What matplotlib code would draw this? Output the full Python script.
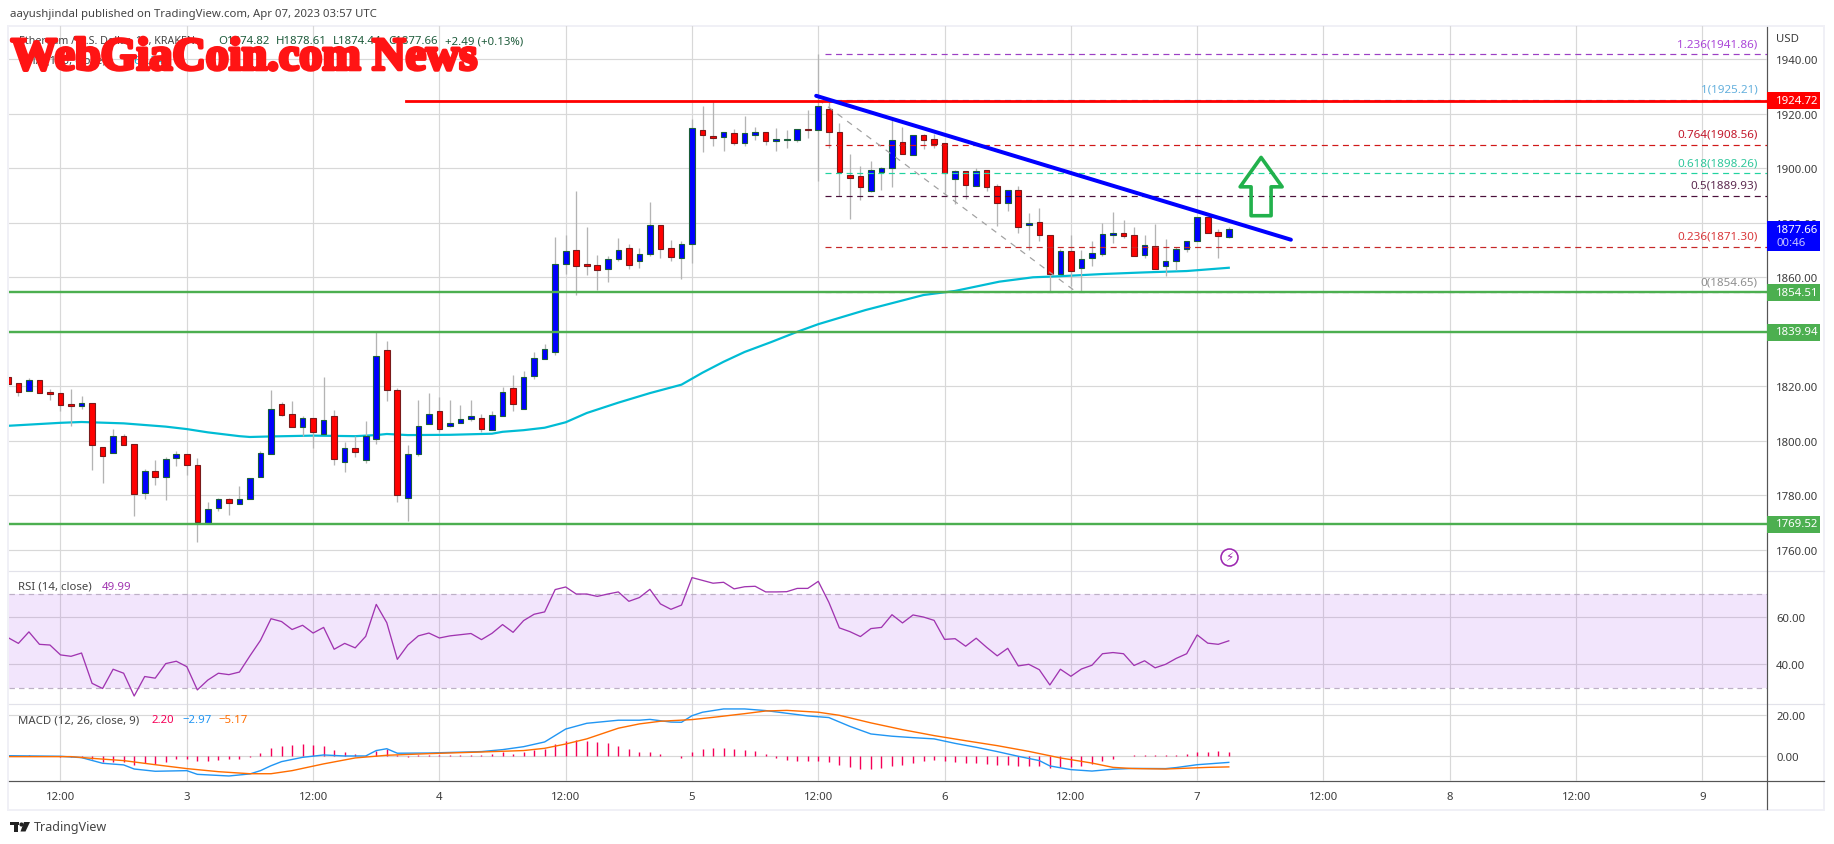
import numpy as np
import matplotlib
matplotlib.use('Agg')
import matplotlib.pyplot as plt
import matplotlib.patheffects as pe
from matplotlib.patches import Rectangle, Polygon

plt.rcParams['font.family'] = ['Noto Sans', 'DejaVu Sans']

# ---- velas de 1h, desde la barra -5 (12:00 del dia 2 = barra 0) ----
first_bar = -5
opens = [1823.3, 1821.1, 1818.4, 1822.2, 1817.8, 1817.4, 1813.4, 1812.9, 1813.7, 1797.9,
         1795.6, 1801.6, 1798.7, 1780.9, 1788.8, 1786.8, 1793.8, 1795.1, 1791.3, 1769.9,
         1775.2, 1778.5, 1776.9, 1778.7, 1786.7, 1795.3, 1813.4, 1810.0, 1804.9, 1808.2,
         1802.6, 1809.0, 1792.4, 1797.2, 1792.8, 1800.5, 1833.2, 1818.5, 1779.1, 1795.0,
         1806.0, 1810.8, 1805.3, 1806.4, 1807.9, 1808.2, 1803.8, 1809.2, 1819.4, 1811.7,
         1823.8, 1830.0, 1832.6, 1865.0, 1869.9, 1864.8, 1864.4, 1863.2, 1866.6, 1870.6,
         1865.9, 1868.4, 1879.1, 1870.6, 1867.0, 1872.1, 1913.9, 1911.7, 1911.4, 1912.8,
         1909.2, 1912.3, 1913.2, 1910.1, 1910.5, 1910.5, 1914.4, 1914.2, 1921.6, 1913.2,
         1897.4, 1897.1, 1891.8, 1898.8, 1900.0, 1909.5, 1905.0, 1912.1, 1910.6, 1909.2,
         1896.2, 1898.9, 1893.6, 1899.3, 1893.4, 1887.1, 1891.9, 1879.3, 1880.2, 1875.4,
         1861.3, 1869.5, 1863.3, 1867.0, 1868.7, 1875.6, 1876.1, 1875.4, 1868.1, 1871.4,
         1864.0, 1865.9, 1870.3, 1873.2, 1882.0, 1876.5, 1874.82]
highs = [1823.3, 1821.1, 1822.9, 1822.2, 1819.0, 1817.4, 1819.0, 1816.3, 1813.7, 1797.9,
         1804.3, 1802.5, 1798.7, 1789.6, 1792.9, 1793.9, 1796.1, 1795.1, 1793.7, 1777.7,
         1778.9, 1778.9, 1783.4, 1786.4, 1796.1, 1818.6, 1814.2, 1814.6, 1809.1, 1808.2,
         1823.3, 1811.2, 1799.4, 1801.9, 1807.2, 1839.8, 1836.8, 1819.2, 1798.4, 1814.9,
         1817.5, 1816.0, 1814.9, 1813.1, 1814.9, 1809.7, 1810.8, 1819.7, 1824.2, 1825.6,
         1832.6, 1835.5, 1874.8, 1875.5, 1891.7, 1878.5, 1868.2, 1867.8, 1874.4, 1872.2,
         1870.8, 1887.6, 1879.1, 1873.7, 1873.3, 1918.1, 1922.9, 1924.7, 1913.2, 1914.4,
         1919.2, 1915.2, 1913.2, 1914.7, 1914.1, 1914.3, 1921.3, 1941.9, 1924.2, 1916.6,
         1905.3, 1900.7, 1902.6, 1900.4, 1918.1, 1915.0, 1912.1, 1912.6, 1912.6, 1909.2,
         1899.3, 1898.9, 1900.0, 1899.3, 1894.1, 1891.9, 1893.4, 1883.6, 1885.4, 1875.4,
         1870.4, 1875.5, 1870.0, 1873.3, 1879.9, 1884.0, 1881.0, 1878.5, 1875.5, 1879.5,
         1874.0, 1871.0, 1873.2, 1882.0, 1882.0, 1877.7, 1878.61]
lows = [1820.8, 1816.4, 1818.4, 1817.6, 1815.1, 1811.0, 1805.5, 1811.6, 1789.3, 1784.5,
        1795.6, 1798.6, 1772.5, 1778.6, 1783.9, 1778.4, 1790.9, 1787.5, 1763.0, 1769.9,
        1774.3, 1772.9, 1776.9, 1778.7, 1786.7, 1795.3, 1809.2, 1804.9, 1801.6, 1797.5,
        1802.6, 1791.2, 1788.6, 1794.2, 1791.9, 1798.9, 1814.7, 1777.5, 1770.6, 1794.5,
        1806.0, 1803.1, 1804.9, 1806.4, 1807.4, 1803.1, 1803.8, 1809.2, 1811.0, 1811.7,
        1822.7, 1830.0, 1831.6, 1861.3, 1853.5, 1861.0, 1855.4, 1858.4, 1865.8, 1863.1,
        1863.5, 1868.0, 1867.2, 1865.8, 1859.5, 1865.4, 1906.1, 1908.3, 1906.5, 1908.7,
        1908.3, 1910.5, 1908.5, 1906.5, 1907.5, 1909.8, 1911.1, 1895.5, 1907.6, 1890.0,
        1881.4, 1888.5, 1891.4, 1892.0, 1893.3, 1905.4, 1905.0, 1907.1, 1907.5, 1890.9,
        1887.0, 1888.9, 1893.6, 1891.8, 1879.0, 1884.5, 1876.4, 1870.1, 1873.5, 1855.0,
        1861.3, 1856.9, 1855.0, 1864.3, 1867.9, 1872.7, 1874.5, 1867.9, 1867.0, 1863.2,
        1860.6, 1862.6, 1869.4, 1873.2, 1876.1, 1867.2, 1874.4]
closes = [1820.8, 1818.0, 1822.2, 1817.6, 1817.3, 1813.2, 1812.9, 1813.7, 1798.6, 1794.5,
          1801.6, 1798.6, 1780.6, 1788.8, 1786.8, 1793.5, 1795.1, 1791.2, 1770.3, 1774.9,
          1778.5, 1777.3, 1778.5, 1786.4, 1795.4, 1811.5, 1809.6, 1804.9, 1808.2, 1803.4,
          1807.5, 1793.2, 1797.2, 1796.0, 1801.6, 1831.2, 1818.5, 1780.2, 1795.0, 1805.6,
          1809.7, 1804.5, 1806.4, 1807.9, 1809.0, 1804.2, 1809.3, 1817.9, 1813.5, 1823.4,
          1830.4, 1833.7, 1864.7, 1869.5, 1864.3, 1864.3, 1862.8, 1866.6, 1869.9, 1864.4,
          1868.4, 1879.1, 1870.5, 1867.3, 1872.1, 1914.7, 1912.3, 1911.0, 1913.2, 1909.2,
          1912.8, 1913.2, 1910.1, 1910.6, 1910.6, 1914.3, 1914.2, 1922.7, 1913.4, 1898.8,
          1896.6, 1893.3, 1899.3, 1900.0, 1910.3, 1905.4, 1912.1, 1910.5, 1909.0, 1898.4,
          1898.9, 1894.0, 1898.9, 1893.3, 1887.4, 1891.9, 1878.6, 1879.8, 1875.7, 1861.3,
          1869.5, 1862.4, 1866.6, 1868.8, 1875.8, 1876.1, 1875.3, 1867.9, 1871.8, 1863.2,
          1865.9, 1870.3, 1873.2, 1882.0, 1876.1, 1875.0, 1877.66]

# EMA
ema_bars = [-5, 0, 2, 6, 10, 12, 14, 17, 18, 20, 24, 28, 30, 31, 33, 37, 41, 42, 44, 46, 48, 50, 53, 56,
            59, 61, 63, 65, 67.5, 70, 72, 76.5, 82, 85, 89.2, 92.4, 95, 99, 103, 107, 111]
ema_vals = [1805.5, 1806.6, 1806.9, 1806.4, 1805.2, 1804.3, 1803.1, 1801.7, 1801.4, 1801.6, 1801.9,
            1801.7, 1802.1, 1802.5, 1802.1, 1802.2, 1802.6, 1803.3, 1803.9, 1804.8, 1806.8, 1810.2,
            1814.0, 1817.5, 1820.6, 1825.0, 1829.0, 1832.6, 1836.2, 1840.0, 1842.8, 1848.0, 1853.5,
            1855.0, 1858.4, 1860.0, 1860.4, 1861.2, 1861.8, 1862.3, 1863.5]

# RSI, una por barra
rsi_vals = [51.4, 48.9, 53.8, 48.5, 48.2, 44.0, 43.4, 44.8, 31.9, 29.7, 37.9, 36.2, 26.5, 34.8, 34.1,
            40.3, 41.3, 39.0, 29.1, 33.3, 36.2, 35.6, 36.7, 43.6, 50.2, 59.4, 58.2, 54.8, 56.6, 53.3,
            55.7, 46.4, 48.9, 47.0, 51.9, 65.5, 57.7, 42.1, 48.2, 52.1, 53.3, 51.2, 52.1, 52.6, 53.1,
            50.5, 53.2, 56.9, 53.6, 58.6, 61.3, 62.3, 71.8, 72.9, 69.9, 69.9, 68.9, 69.9, 70.8, 66.8,
            68.4, 71.9, 65.7, 63.4, 65.2, 76.9, 75.7, 74.5, 74.9, 72.1, 73.0, 73.2, 70.8, 70.8, 70.9,
            72.3, 72.3, 75.3, 66.4, 55.5, 53.9, 51.8, 55.2, 55.7, 61.1, 57.6, 61.0, 60.1, 58.7, 50.6,
            50.9, 47.7, 51.1, 47.2, 43.6, 46.8, 39.3, 40.0, 37.7, 31.2, 37.9, 34.9, 38.0, 39.6, 44.5,
            45.0, 44.5, 39.5, 41.5, 38.5, 40.0, 42.5, 44.5, 52.5, 49.0, 48.5, 49.99]

# MACD
macd_bars = [-5, 0, 2, 4, 6, 7, 9, 12, 13, 16, 18, 19, 20, 21, 23, 25, 27, 29, 30, 31, 32, 35, 40, 42,
             44, 46, 48, 50, 53, 55, 56, 58, 59, 60, 61, 63, 65, 67, 69, 71, 73, 75, 77, 79, 81, 83,
             85, 87, 89, 91, 93, 94, 96, 98, 100, 102, 105, 106, 108, 111]
macd_vals = [0.3, 0.0, -0.65, -3.4, -4.2, -6.2, -7.3, -7.0, -8.8, -9.6, -8.6, -7.0, -4.6, -2.6, -0.5,
             0.65, 0.16, 0.16, 2.8, 3.7, 1.5, 1.6, 2.3, 3.25, 4.7, 7.0, 13.3, 16.1, 17.6, 17.6, 18.0,
             16.7, 16.6, 19.8, 21.5, 23.1, 23.1, 22.3, 21.0, 19.7, 18.9, 14.6, 10.9, 9.8, 9.1, 8.5,
             6.3, 4.4, 2.3, 0.0, -2.1, -4.7, -6.5, -7.2, -6.3, -5.9, -6.0, -5.5, -4.1, -2.97]
signal_bars = [-5, 1, 3, 6, 9, 12, 15, 18, 20, 22, 25, 28, 31, 35, 40, 44, 46, 48, 50, 53, 55, 57, 60,
               62, 65, 67, 69, 72, 74, 77, 80, 83, 86, 89, 92, 95, 98, 100, 102, 105, 109, 111]
signal_vals = [-0.16, -0.16, -1.0, -2.1, -4.1, -6.0, -7.5, -8.5, -8.5, -7.0, -3.7, -0.8, 0.5, 1.3, 2.1,
               2.8, 3.9, 6.0, 8.5, 13.7, 15.8, 17.1, 17.9, 19.0, 20.8, 22.1, 22.4, 21.5, 20.0, 16.3,
               13.0, 10.1, 7.6, 5.2, 2.4, -0.8, -3.3, -5.4, -6.0, -6.2, -5.4, -5.17]
hist_vals = [0.2, 0.2, 0.5, 0.2, 0.1, -0.2, -0.1, -0.5, -1.5, -2.6, -2.6, -2.6, -4.1, -3.3, -3.7, -2.6,
             -1.5, -1.3, -2.3, -2.3, -1.6, -1.5, -1.1, -0.2, 1.6, 4.1, 5.0, 5.5, 6.0, 5.5, 5.0, 3.1,
             2.1, 1.1, 0.65, 2.8, 3.6, 0.65, -0.3, 0.5, 0.5, 0.5, 0.5, 0.65, 0.5, 0.65, 1.3, 2.0, 1.3,
             2.3, 3.3, 3.6, 6.0, 7.3, 8.0, 7.5, 7.0, 6.5, 5.2, 3.6, 2.0, 2.0, 1.1, 0.2, -0.65, 2.0,
             3.6, 4.1, 4.1, 3.6, 3.1, 2.6, 1.1, -0.65, -1.8, -2.1, -2.1, -2.1, -2.6, -4.1, -5.0, -6.0,
             -6.0, -5.5, -4.6, -4.1, -3.1, -2.1, -1.8, -2.1, -2.6, -3.1, -3.1, -3.7, -4.1, -4.1, -4.6,
             -4.6, -4.7, -5.5, -5.0, -5.0, -4.7, -3.7, -2.1, -1.1, 0.2, 0.65, 0.65, 0.65, 0.65, 0.65,
             1.1, 2.0, 2.3, 2.6, 2.2]

# niveles y dibujos
green_levels = [1854.51, 1839.94, 1769.52]
red_level = 1924.72
fib_ratio = ['1.236', '1', '0.764', '0.618', '0.5', '0.236', '0']
fib_price = [1941.86, 1925.21, 1908.56, 1898.26, 1889.93, 1871.30, 1854.65]
fib_color = ['#9c3fc4', '#5b9bd0', '#d01818', '#22d3a0', '#4a0f3a', '#c62828', '#909090']
fib_text_col = ['#ab47d8', '#64b0dd', '#c2182b', '#2fc79b', '#5d2a50', '#d9393c', '#8f8f8f']
fib_text_y = [45, 90, 135, 164, 186, 237, 283]
trend_x = [71.8, 116.9]
trend_y = [1926.6, 1873.8]
fib_diag_x = [72, 96.5]
fib_diag_y = [1925.21, 1854.65]
arrow_x = [114.07, 116.07, 115.02, 115.02, 113.12, 113.12, 112.08]
arrow_y = [1904.0, 1893.2, 1893.2, 1882.6, 1882.6, 1893.2, 1893.2]
time_labels = ['12:00', '3', '12:00', '4', '12:00', '5', '12:00', '6', '12:00', '7', '12:00', '8', '12:00', '9']

W, H = 1834, 845
PX = 0.72  # puntos por pixel a dpi=100
bars = np.arange(first_bar, first_bar + len(opens))
opens, highs, lows, closes = map(np.array, (opens, highs, lows, closes))
GRID = '#d8d8d8'

fig = plt.figure(figsize=(W / 100, H / 100), dpi=100, facecolor='white')

def pane(top, bottom, left=9, right=1766.7):
    ax = fig.add_axes([left / W, 1 - bottom / H, (right - left) / W, (bottom - top) / H], facecolor='none')
    for s in ax.spines.values():
        s.set_visible(False)
    ax.set_xlim((9 - 60.5) / 10.525, (1766.7 - 60.5) / 10.525)
    ax.yaxis.tick_right()
    ax.tick_params(axis='y', length=0, pad=6.7, labelsize=8.2, labelcolor='#3c3c3c')
    ax.tick_params(axis='x', length=0, pad=7.5, labelsize=8.2, labelcolor='#3c3c3c')
    ax.set_xticks(np.arange(0, 157, 12))
    ax.set_xticklabels([])
    ax.grid(True, color=GRID, lw=1.2 * PX)
    ax.set_axisbelow(True)
    return ax

# marco de la imagen (pixeles)
chrome = fig.add_axes([0, 0, 1, 1], zorder=-1)
chrome.set_xlim(0, W)
chrome.set_ylim(H, 0)
chrome.axis('off')
chrome.add_patch(Rectangle((8, 26.5), 1816, 784, fc='white', ec='#f0f0f6', lw=2 * PX))
chrome.plot([9, 1824], [571.7, 571.7], color='#e2e2ea', lw=1.2 * PX)
chrome.plot([9, 1824], [705, 705], color='#e2e2ea', lw=1.2 * PX)
chrome.plot([9, 1824], [782, 782], color='#555555', lw=1.2 * PX)
chrome.plot([1766.7, 1766.7], [28, 810], color='#555555', lw=1.2 * PX)
# logo
chrome.add_patch(Rectangle((10, 823), 9, 3.2, fc='#222222', ec='none'))
chrome.add_patch(Rectangle((13.5, 823), 4.2, 9.5, fc='#222222', ec='none'))
chrome.add_patch(Polygon([[24, 823], [30, 823], [25.5, 832.5], [20.5, 832.5]], fc='#222222', ec='none'))
chrome.scatter([21], [824.6], s=9, color='#222222', lw=0)
chrome.text(33.5, 827.5, 'TradingView', fontsize=9.0, color='#444444', va='center')
chrome.text(10, 15, 'aayushjindal published on TradingView.com, Apr 07, 2023 03:57 UTC',
            fontsize=8.2, color='#444444', va='center')

# ---- precio ----
ax = pane(27, 571.7)
ax.set_ylim(1940 - (571.7 - 60.3) / 2.725, 1940 + (60.3 - 27) / 2.725)
ax.set_yticks(np.arange(1760, 1941, 20))
ax.set_yticklabels(['%.2f' % v for v in np.arange(1760, 1941, 20)])

ax.plot(ema_bars, ema_vals, color='#00bcd4', lw=2.2 * PX, zorder=2)

up = closes >= opens
body_w = 5.6 / 10.525
ax.vlines(bars, lows, highs, color='#b4b4b4', lw=1.3 * PX, zorder=3)
ax.bar(bars[up], (closes - opens)[up], bottom=opens[up], width=body_w, color='#0000ff',
       edgecolor='#1b5e3a', lw=1.1 * PX, zorder=4)
ax.bar(bars[~up], (opens - closes)[~up], bottom=closes[~up], width=body_w, color='#ff0000',
       edgecolor='#7a1a1a', lw=1.1 * PX, zorder=4)

for p, c in zip(fib_price, fib_color):
    ax.plot([72.6, 162.1], [p, p], color=c, lw=1.2 * PX, dashes=(5.0, 3.8), zorder=5)
ax.plot(fib_diag_x, fib_diag_y, color='#a0a0a0', lw=1.2 * PX, dashes=(5.0, 5.0), zorder=5)
for lv in green_levels:
    ax.plot([-4.89, 162.1], [lv, lv], color='#4caf50', lw=2.4 * PX, zorder=6)
ax.plot([32.8, 162.1], [red_level, red_level], color='#ff0000', lw=2.8 * PX, zorder=6)
ax.plot(trend_x, trend_y, color='#0000ff', lw=4 * PX, zorder=7, solid_capstyle='round')
ax.add_patch(Polygon(np.column_stack([arrow_x, arrow_y]), closed=True, fc='none', ec='#22b14c',
                     lw=3.6 * PX, joinstyle='round', zorder=7))

# etiquetas de fibonacci
for r, p, c, y in zip(fib_ratio, fib_price, fib_text_col, fib_text_y):
    fig.text(1757.7 / W, 1 - y / H, '%s(%.2f)' % (r, p), color=c, fontsize=8.4, ha='right', va='center')

# etiquetas del eje
tag_w = 53.3 / 1757.7
yax = ax.get_yaxis_transform()
def tag(price, color, top_off=6.2, bot_off=6.2):
    ax.add_patch(Rectangle((1.0, price - bot_off), tag_w, top_off + bot_off, transform=yax, fc=color, ec='none',
                           clip_on=False, zorder=20))
    ax.text(1 + 9.3 / 1757.7, price, '%.2f' % price, transform=yax, color='white', fontsize=8.2, weight='bold',
            va='center', clip_on=False, zorder=21)
tag(red_level, '#ff0000', 3.3, 3.0)
for lv in green_levels:
    tag(lv, '#4caf50', 3.0, 3.3)
tag(closes[-1], '#0000ff', 3.0, 8.0)
ax.text(1 + 9.3 / 1757.7, closes[-1] - 5.0, '00:46', transform=yax, color='#c6c6ff', fontsize=8.2,
        va='center', clip_on=False, zorder=21)

# icono
ax.scatter([111], [1757.4], s=150, fc='white', ec='#9c27b0', lw=1.6 * PX, zorder=8)
ax.text(111, 1757.4, '\u26a1', color='#9c27b0', fontsize=8.5, ha='center', va='center', zorder=9,
        family='DejaVu Sans')

# ---- RSI ----
ax_rsi = pane(571.7, 705)
ax_rsi.set_ylim(60 - (705 - 618.3) / 2.35, 60 + (618.3 - 571.7) / 2.35)
ax_rsi.set_yticks([40, 60])
ax_rsi.set_yticklabels(['40.00', '60.00'])
ax_rsi.axhspan(30, 70, color='#a94cea', alpha=0.14, lw=0, zorder=1)
for lv in (30, 70):
    ax_rsi.axhline(lv, color='#bdb0c6', lw=1.2 * PX, dashes=(4.5, 3.5), zorder=2)
ax_rsi.plot(bars, rsi_vals, color='#a034b0', lw=1.3 * PX, zorder=3)

# ---- MACD ----
ax_macd = pane(705, 782)
ax_macd.set_ylim(-(782 - 757.3) / 2.05, (757.3 - 705) / 2.05)
ax_macd.set_yticks([0, 20])
ax_macd.set_yticklabels(['0.00', '20.00'])
ax_macd.set_xticklabels(time_labels)
ax_macd.vlines(bars, 0, hist_vals, color='#f50057', lw=1.4 * PX, zorder=2)
ax_macd.plot(macd_bars, macd_vals, color='#2196f3', lw=1.4 * PX, zorder=3)
ax_macd.plot(signal_bars, signal_vals, color='#ff6d00', lw=1.4 * PX, zorder=4)

# ---- textos de leyenda ----
def label(x, y, s, color='#444444', size=8.2):
    fig.text(x / W, 1 - y / H, s, color=color, fontsize=size, va='center', zorder=30)

label(19, 41.5, 'Ethereum / U.S. Dollar, 1h, KRAKEN', size=7.7)
ohlc_col = '#1f5c3c'
label(218, 41.5, 'O1874.82', ohlc_col)
label(276, 41.5, 'H1878.61', ohlc_col)
label(333, 41.5, 'L1874.44', ohlc_col)
label(388, 41.5, 'C1877.66', ohlc_col)
label(445, 41.5, '+2.49 (+0.13%)', ohlc_col)
label(19, 61, 'EMA (100, close)')
label(122, 61, '1863.24', '#00bcd4')
label(18, 587, 'RSI (14, close)')
label(102, 587, '49.99', '#a034b0')
label(18, 720.7, 'MACD (12, 26, close, 9)')
label(151, 720.7, '2.20', '#f50057')
label(182, 720.7, '\u22122.97', '#2196f3')
label(218, 720.7, '\u22125.17', '#ff6d00')
label(1776, 40, 'USD', '#3c3c3c')

# marca de agua
fig.text(11 / W, 1 - 70.5 / H, 'WebGiaCoin.com News', color='#ff1414', fontsize=33.2, family='Liberation Serif',
         weight='bold', va='baseline', zorder=40,
         path_effects=[pe.withStroke(linewidth=2.6, foreground='#ff1414')])

plt.savefig('out.png', dpi=100)
